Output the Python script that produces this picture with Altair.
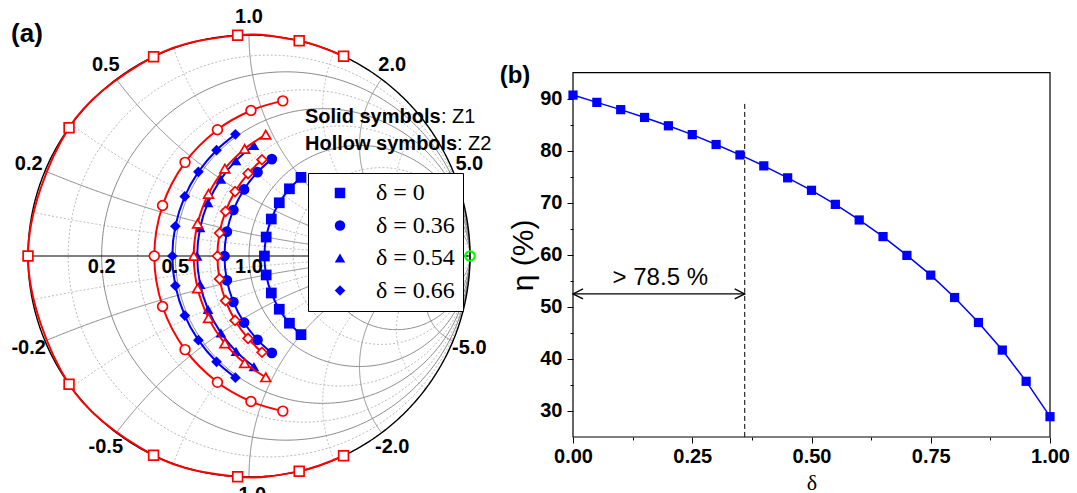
import numpy as np
import pandas as pd
import altair as alt

W, H = 1077, 493
SANS = "Liberation Sans"
SERIF = "Liberation Serif"
BLUE = "#0000ff"
RED = "#ff0000"

# ---------------- panel (a): Smith chart, normalised impedance r + jx ----------------
delta_labels = ["δ = 0", "δ = 0.36", "δ = 0.54", "δ = 0.66"]
marker_shapes = ["square", "circle", "triangle-up", "diamond"]

# Z1 (solid symbols)
z1_r = [1.15, 0.80, 0.62, 0.485]
z1_x_d000 = [-1.00, -0.80, -0.60, -0.40, -0.20, 0.00, 0.20, 0.40, 0.60, 0.80, 1.00]
z1_x_d036 = [-0.88, -0.71, -0.53, -0.35, -0.18, 0.00, 0.18, 0.35, 0.53, 0.71, 0.88]
z1_x_d054 = [-0.83, -0.66, -0.50, -0.33, -0.17, 0.00, 0.17, 0.33, 0.50, 0.66, 0.83]
z1_x_d066 = [-0.77, -0.62, -0.46, -0.31, -0.15, 0.00, 0.15, 0.31, 0.46, 0.62, 0.77]
z1_x = [z1_x_d000, z1_x_d036, z1_x_d054, z1_x_d066]

# Z2 (hollow symbols)
z2_r = [0.0, 0.40, 0.60, 0.75]
z2_x_d000 = [-1.58, -1.26, -0.95, -0.63, -0.32, 0.00, 0.32, 0.63, 0.95, 1.26, 1.58]
z2_x_d036 = [-1.16, -0.93, -0.70, -0.46, -0.23, 0.00, 0.23, 0.46, 0.70, 0.93, 1.16]
z2_x_d054 = [-0.95, -0.76, -0.57, -0.38, -0.19, 0.00, 0.19, 0.38, 0.57, 0.76, 0.95]
z2_x_d066 = [-0.81, -0.65, -0.48, -0.32, -0.16, 0.00, 0.16, 0.32, 0.48, 0.65, 0.81]
z2_x = [z2_x_d000, z2_x_d036, z2_x_d054, z2_x_d066]

# open-circuit marker (reflection coefficient)
oc_gx = [1.0]
oc_gy = [0.0]

# Smith grid values (resistance labels 2.0 and 5.0 lie under the legend box)
grid_major = [0.2, 0.5, 1.0, 2.0, 5.0]
grid_minor = [0.1, 0.33, 0.7, 1.5, 3.0, 10.0]
r_tick_values = [0.2, 0.5, 1.0]
r_tick_labels = ["0.2", "0.5", "1.0"]
x_tick_values = [0.2, 0.5, 1.0, 2.0, 5.0, -0.2, -0.5, -1.0, -2.0, -5.0]
x_tick_labels = ["0.2", "0.5", "1.0", "2.0", "5.0", "-0.2", "-0.5", "-1.0", "-2.0", "-5.0"]

# ---------------- panel (b): efficiency vs delta ----------------
delta_b = [0.00, 0.05, 0.10, 0.15, 0.20, 0.25, 0.30, 0.35, 0.40, 0.45, 0.50,
           0.55, 0.60, 0.65, 0.70, 0.75, 0.80, 0.85, 0.90, 0.95, 1.00]
eta_b = [90.7, 89.3, 87.9, 86.4, 84.8, 83.1, 81.2, 79.2, 77.1, 74.8, 72.4,
         69.7, 66.7, 63.5, 59.9, 56.1, 51.8, 47.0, 41.7, 35.7, 28.9]
delta_limit = [0.36]
eta_limit_top = [89.0]
eta_arrow = [52.5]
arrow_text = ["> 78.5 %"]
arrow_text_pos = [0.183, 55.6]
x_ticks_b = [0.0, 0.25, 0.5, 0.75, 1.0]
x_minor_b = [0.125, 0.375, 0.625, 0.875]
y_ticks_b = [30, 40, 50, 60, 70, 80, 90]
y_minor_b = [35, 45, 55, 65, 75, 85]
x_domain_b = [0.0, 1.0]
y_domain_b = [25.0, 95.0]

# ---------------- layout (pixels) ----------------
SC_CX, SC_CY, SC_R = 249.0, 256.0, 221.0
B_X0, B_X1, B_YT, B_YB = 573.0, 1050.0, 72.7, 437.0

sx_a = alt.Scale(domain=[-SC_CX / SC_R, (W - SC_CX) / SC_R], nice=False, zero=False)
sy_a = alt.Scale(domain=[-(H - SC_CY) / SC_R, SC_CY / SC_R], nice=False, zero=False)

kx = (B_X1 - B_X0) / (x_domain_b[1] - x_domain_b[0])
bx0 = x_domain_b[0] - B_X0 / kx
ky = (B_YB - B_YT) / (y_domain_b[1] - y_domain_b[0])
by1 = y_domain_b[1] + B_YT / ky
sx_b = alt.Scale(domain=[bx0, bx0 + W / kx], nice=False, zero=False)
sy_b = alt.Scale(domain=[by1 - H / ky, by1], nice=False, zero=False)


def AX(f):
    return alt.X(f, type="quantitative", scale=sx_a, axis=None)


def AY(f):
    return alt.Y(f, type="quantitative", scale=sy_a, axis=None)


# ---------------- Smith grid geometry ----------------
def grid_frame(values):
    rows = []
    gid = 0
    phi = np.linspace(0, 2 * np.pi, 361)
    s = np.tan(np.linspace(0, np.pi / 2 * 0.997, 400))
    for g in values:
        c, rad = g / (1 + g), 1 / (1 + g)
        for i, p in enumerate(phi):
            rows.append((gid, i, c + rad * np.cos(p), rad * np.sin(p)))
        gid += 1
        for sign in (1, -1):
            xg = sign * g
            d = (s + 1) ** 2 + xg ** 2
            gx = (s ** 2 + xg ** 2 - 1) / d
            gy = 2 * xg / d
            for i in range(len(s)):
                rows.append((gid, i, gx[i], gy[i]))
            gid += 1
    return pd.DataFrame(rows, columns=["gid", "ord", "gx", "gy"])


df_gmin = grid_frame(grid_minor)
df_gmaj = grid_frame(grid_major)
phi0 = np.linspace(0, 2 * np.pi, 721)
df_outer = pd.DataFrame({"ord": np.arange(len(phi0)), "gx": np.cos(phi0), "gy": np.sin(phi0)})

grid_min = alt.Chart(df_gmin).mark_line(color="#b9b9b9", strokeWidth=1, strokeDash=[2, 2]).encode(
    x=AX("gx"), y=AY("gy"), detail="gid:N", order="ord:Q")
grid_maj = alt.Chart(df_gmaj).mark_line(color="#8a8a8a", strokeWidth=1).encode(
    x=AX("gx"), y=AY("gy"), detail="gid:N", order="ord:Q")
outer = alt.Chart(df_outer).mark_line(color="black", strokeWidth=1.4).encode(
    x=AX("gx"), y=AY("gy"), order="ord:Q")
real_axis = alt.Chart(pd.DataFrame({"a": [-1.0], "b": [1.0], "c": [0.0]})).mark_rule(
    color="black", strokeWidth=1.2).encode(x=AX("a"), x2="b", y=AY("c"))

r_labels = alt.Chart(pd.DataFrame({"v": r_tick_values, "lab": r_tick_labels})).transform_calculate(
    gx="(datum.v-1)/(datum.v+1)", gy="-0.05").mark_text(
    font=SANS, fontSize=20, fontWeight="bold", color="black", align="center", baseline="middle").encode(
    x=AX("gx:Q"), y=AY("gy:Q"), text="lab:N")
x_labels = alt.Chart(pd.DataFrame({"v": x_tick_values, "lab": x_tick_labels})).transform_calculate(
    gx="1.08*(datum.v*datum.v-1)/(datum.v*datum.v+1)", gy="1.08*2*datum.v/(datum.v*datum.v+1)").mark_text(
    font=SANS, fontSize=20, fontWeight="bold", color="black", align="center", baseline="middle").encode(
    x=AX("gx:Q"), y=AY("gy:Q"), text="lab:N")


def series_frame(rs, xs):
    rows = []
    for i in range(len(delta_labels)):
        for k, xv in enumerate(xs[i]):
            rows.append(dict(delta=delta_labels[i], shape=marker_shapes[i], r=rs[i], xr=xv, k=k))
    return pd.DataFrame(rows)


calc = dict(
    gx="(datum.r*datum.r+datum.xr*datum.xr-1)/((datum.r+1)*(datum.r+1)+datum.xr*datum.xr)",
    gy="2*datum.xr/((datum.r+1)*(datum.r+1)+datum.xr*datum.xr)",
)

legend_a = alt.Legend(
    title=None, orient="none", legendX=308, legendY=173, direction="vertical",
    fillColor="white", strokeColor="black", padding=8, cornerRadius=0,
    labelFont=SERIF, labelFontSize=24, labelColor="black", labelOffset=24, labelLimit=300,
    symbolOffset=12, symbolSize=110, symbolFillColor=BLUE, symbolStrokeColor=BLUE,
    symbolStrokeWidth=0, rowPadding=8.5)

z1_base = alt.Chart(series_frame(z1_r, z1_x)).transform_calculate(**calc)
z2_base = alt.Chart(series_frame(z2_r, z2_x)).transform_calculate(**calc)

z1_lines = z1_base.mark_line(color=BLUE, strokeWidth=2, interpolate="cardinal").encode(
    x=AX("gx:Q"), y=AY("gy:Q"), detail="delta:N", order="k:Q")
z1_pts = z1_base.mark_point(filled=True, color=BLUE, size=115, opacity=1).encode(
    x=AX("gx:Q"), y=AY("gy:Q"),
    shape=alt.Shape("delta:N", scale=alt.Scale(domain=delta_labels, range=marker_shapes), legend=legend_a))
z2_lines = z2_base.mark_line(color=RED, strokeWidth=2, interpolate="cardinal").encode(
    x=AX("gx:Q"), y=AY("gy:Q"), detail="delta:N", order="k:Q")
z2_pts = z2_base.mark_point(filled=True, fill="white", stroke=RED, strokeWidth=1.7, size=95, opacity=1).encode(
    x=AX("gx:Q"), y=AY("gy:Q"), shape=alt.Shape("shape:N", scale=None))

oc_pt = alt.Chart(pd.DataFrame({"gx": oc_gx, "gy": oc_gy})).mark_point(
    shape="circle", filled=False, stroke="#00ff00", strokeWidth=2.2, size=90, opacity=1).encode(
    x=AX("gx"), y=AY("gy"))

one = pd.DataFrame({"a": [0]})


def label(text, x, y, size, weight="normal", font=SANS, align="left", baseline="alphabetic"):
    return alt.Chart(one).mark_text(text=text, font=font, fontSize=size, fontWeight=weight,
                                    color="black", align=align, baseline=baseline).encode(
        x=alt.value(x), y=alt.value(y))


notes_a = [
    label("(a)", 27, 34, 26, "bold", align="center", baseline="middle"),
    label("Solid symbols", 305, 123, 20, "bold"),
    label(": Z1", 441, 123, 20),
    label("Hollow symbols", 305, 150, 20, "bold"),
    label(": Z2", 457, 150, 20),
]

smith = alt.layer(grid_min, grid_maj, outer, real_axis, r_labels, x_labels,
                  z1_lines, z1_pts, z2_lines, z2_pts, oc_pt, *notes_a)

# ---------------- panel (b) layers ----------------
x_axis_b = alt.Axis(
    orient="bottom", offset=B_YB - H, values=x_ticks_b, format=".2f", domain=False, grid=False,
    tickSize=6, tickColor="black", tickWidth=1, labelFont=SANS, labelFontSize=20, labelFontWeight="bold",
    labelColor="black", labelPadding=3, labelFlush=False, labelOverlap=False,
    title="δ", titleFont=SERIF, titleFontSize=22, titleFontWeight="normal", titleColor="black",
    titleX=(B_X0 + B_X1) / 2, titleY=45, titleAlign="center", titleBaseline="middle")
y_axis_b = alt.Axis(
    orient="left", offset=-B_X0, values=y_ticks_b, domain=False, grid=False,
    tickSize=6, tickColor="black", tickWidth=1, labelFont=SANS, labelFontSize=20, labelFontWeight="bold",
    labelColor="black", labelPadding=5, labelOverlap=False,
    title="η (%)", titleFont=SANS, titleFontSize=30, titleFontWeight="normal", titleColor="black",
    titleAngle=270, titleX=-50, titleY=(B_YT + B_YB) / 2, titleAlign="center", titleBaseline="middle")


def BX(f):
    return alt.X(f, type="quantitative", scale=sx_b, axis=x_axis_b)


def BY(f):
    return alt.Y(f, type="quantitative", scale=sy_b, axis=y_axis_b)


frame = alt.Chart(pd.DataFrame({"x0": [x_domain_b[0]], "x1": [x_domain_b[1]],
                                "y0": [y_domain_b[0]], "y1": [y_domain_b[1]]})).mark_rect(
    fillOpacity=0, stroke="black", strokeWidth=1.2).encode(x=BX("x0"), x2="x1", y=BY("y0"), y2="y1")

df_b = pd.DataFrame({"d": delta_b, "eta": eta_b})
eff_line = alt.Chart(df_b).mark_line(color=BLUE, strokeWidth=1.5).encode(x=BX("d"), y=BY("eta"))
eff_pts = alt.Chart(df_b).mark_point(shape="square", filled=True, color=BLUE, size=85, opacity=1).encode(
    x=BX("d"), y=BY("eta"))

limit = alt.Chart(pd.DataFrame({"d": delta_limit, "top": eta_limit_top, "bot": [y_domain_b[0]]})).mark_rule(
    color="black", strokeWidth=1, strokeDash=[5, 3]).encode(x=BX("d"), y=BY("top"), y2="bot")
arrow_df = pd.DataFrame({"d0": [x_domain_b[0]], "d1": delta_limit, "e": eta_arrow})
arrow = alt.Chart(arrow_df).mark_rule(color="black", strokeWidth=1.3).encode(x=BX("d0"), x2="d1", y=BY("e"))
head_l = alt.Chart(arrow_df).mark_point(shape="M2,-1L0,0L2,1", size=100, filled=False, stroke="black",
                                        strokeWidth=1.3, opacity=1).encode(x=BX("d0"), y=BY("e"))
head_r = alt.Chart(arrow_df).mark_point(shape="M-2,-1L0,0L-2,1", size=100, filled=False, stroke="black",
                                        strokeWidth=1.3, opacity=1).encode(x=BX("d1"), y=BY("e"))
arrow_lab = alt.Chart(pd.DataFrame({"d": [arrow_text_pos[0]], "e": [arrow_text_pos[1]], "t": arrow_text})).mark_text(
    font=SANS, fontSize=24, color="black", align="center", baseline="middle").encode(
    x=BX("d"), y=BY("e"), text="t:N")

eff = alt.layer(frame, limit, arrow, head_l, head_r, arrow_lab, eff_line, eff_pts,
                label("(b)", 515, 76, 24, "bold", align="center", baseline="middle"))

minor = alt.Chart(pd.DataFrame({"d": [0.5], "e": [50.0]})).mark_point(opacity=0).encode(
    x=alt.X("d", type="quantitative", scale=sx_b,
            axis=alt.Axis(orient="bottom", offset=B_YB - H, values=x_minor_b, labels=False, domain=False,
                          grid=False, tickSize=3, tickColor="black", tickWidth=1, title=None)),
    y=alt.Y("e", type="quantitative", scale=sy_b,
            axis=alt.Axis(orient="left", offset=-B_X0, values=y_minor_b, labels=False, domain=False,
                          grid=False, tickSize=3, tickColor="black", tickWidth=1, title=None)))

chart = alt.layer(smith, eff, minor).resolve_scale(
    x="independent", y="independent").properties(
    width=W, height=H, autosize=alt.AutoSizeParams(type="none"), padding=0,
    background="white").configure_view(stroke=None)

chart.save("out.html", embed_options={"renderer": "svg", "actions": False})
